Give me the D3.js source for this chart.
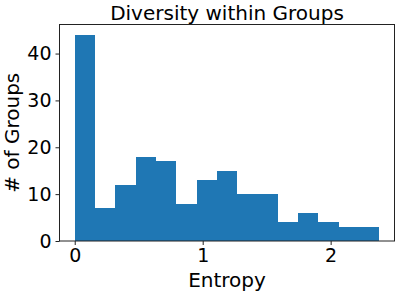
<!DOCTYPE html>
<html>
<head>
<meta charset="utf-8">
<script src="https://cdn.jsdelivr.net/npm/d3@7"></script>
<style>
  body { margin: 0; background: #fff; }
  text { font-family: "DejaVu Sans", sans-serif; fill: #000; }
</style>
</head>
<body>
<svg id="chart" width="397" height="294"></svg>
<script>
// histogram bins (15 equal bins over entropy 0..2.38)
let binStart = 0, binEnd = 2.38;
let counts = [44, 7, 12, 18, 17, 8, 13, 15, 10, 10, 4, 6, 4, 3, 3];
let xTicks = [0, 1, 2];
let yTicks = [0, 10, 20, 30, 40];

let svg = d3.select("#chart");
let m = {left: 59.5, right: 394.5, top: 24.5, bottom: 241};

let pad = (binEnd - binStart) * 0.05;
let x = d3.scaleLinear()
    .domain([binStart - pad, binEnd + pad])
    .range([m.left, m.right]);
let y = d3.scaleLinear()
    .domain([0, d3.max(counts) * 1.05])
    .range([m.bottom, m.top]);

let w = (binEnd - binStart) / counts.length;
let bins = counts.map((c, i) => ({x0: binStart + i * w, x1: binStart + (i + 1) * w, c: c}));

svg.append("g").selectAll("rect")
    .data(bins)
    .enter().append("rect")
    .attr("x", d => x(d.x0))
    .attr("width", d => x(d.x1) - x(d.x0))
    .attr("y", d => y(d.c))
    .attr("height", d => y(0) - y(d.c))
    .style("shape-rendering", "crispEdges")
    .style("fill", "#1f77b4");

// axes
let xAxis = d3.axisBottom(x).tickValues(xTicks).tickSize(4).tickPadding(4).tickFormat(d3.format("d"));
let yAxis = d3.axisLeft(y).tickValues(yTicks).tickSize(4).tickPadding(4).tickFormat(d3.format("d"));

let gx = svg.append("g").attr("transform", `translate(0,${m.bottom})`).call(xAxis);
let gy = svg.append("g").attr("transform", `translate(${m.left},0)`).call(yAxis);
[gx, gy].forEach(g => {
    g.select(".domain").remove();
    g.selectAll("line").style("stroke", "#222").style("stroke-width", 1);
    g.selectAll("text").style("font-size", "19px").style("font-family", "DejaVu Sans").style("fill", "#000");
});

// frame
svg.append("rect")
    .attr("x", m.left).attr("y", m.top)
    .attr("width", m.right - m.left).attr("height", m.bottom - m.top)
    .style("fill", "none").style("stroke", "#222").style("stroke-width", 1);

svg.append("text")
    .attr("x", (m.left + m.right) / 2).attr("y", 20)
    .style("text-anchor", "middle").style("font-size", "20px")
    .text("Diversity within Groups");

svg.append("text")
    .attr("x", (m.left + m.right) / 2).attr("y", 286.5)
    .style("text-anchor", "middle").style("font-size", "20px")
    .text("Entropy");

svg.append("text")
    .attr("transform", `translate(18.5,${(m.top + m.bottom) / 2}) rotate(-90)`)
    .style("text-anchor", "middle").style("font-size", "20px")
    .text("# of Groups");
</script>
</body>
</html>
